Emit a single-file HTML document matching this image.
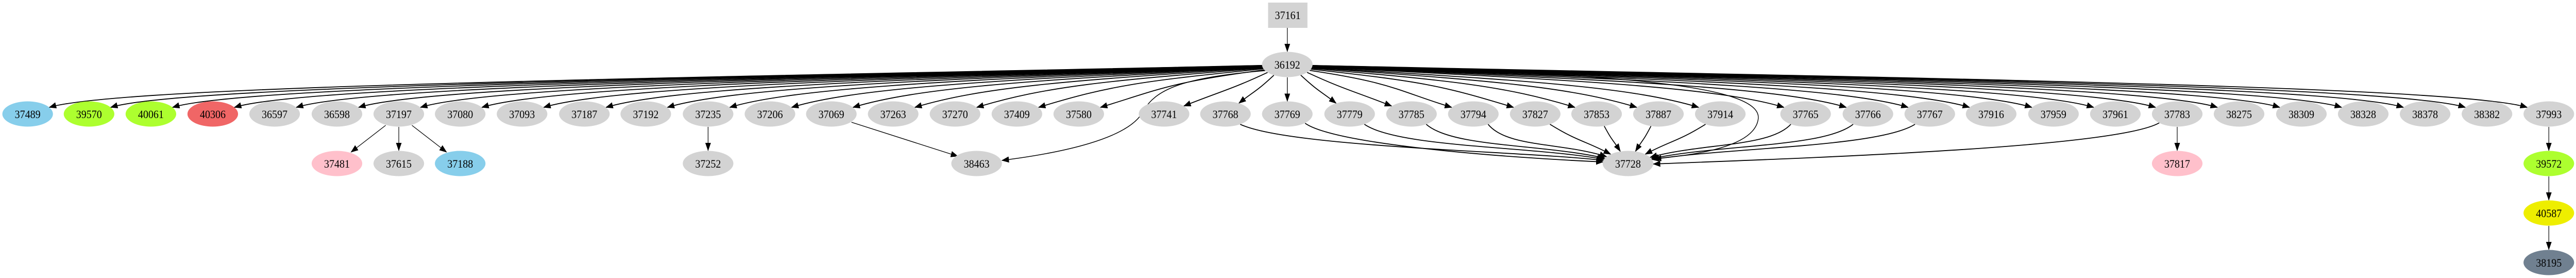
<!DOCTYPE html>
<html><head><meta charset="utf-8">
<style>
html,body{margin:0;padding:0;background:#fff;overflow:hidden;width:100%;height:100%;}
svg{display:block;width:100vw;height:100vh;}
text{font-family:"Liberation Serif",serif;font-size:22px;text-anchor:middle;fill:#000;}
</style></head>
<body>
<svg id="g" xmlns="http://www.w3.org/2000/svg" viewBox="0 0 5497 539" preserveAspectRatio="none">
<defs>
<marker id="ah" markerWidth="16" markerHeight="12" refX="15" refY="6" orient="auto" markerUnits="userSpaceOnUse">
<path d="M0,0 L16,6 L0,12 Z" fill="#000"/>
</marker>
</defs>
<g id="edges" fill="none" stroke="#000" stroke-width="1.6"></g>
<g id="nodes">
<rect x="2706" y="5" width="84" height="49" fill="#d3d3d3"/>
<text x="2748" y="37">37161</text>
<ellipse cx="2747" cy="125" rx="54" ry="24.5" fill="#d3d3d3"/><text x="2747" y="133">36192</text>

<ellipse cx="59" cy="221" rx="54" ry="24.5" fill="#87ceeb"/><text x="59" y="229">37489</text>
<ellipse cx="190" cy="221" rx="54" ry="24.5" fill="#adff2f"/><text x="190" y="229">39570</text>
<ellipse cx="322" cy="221" rx="54" ry="24.5" fill="#adff2f"/><text x="322" y="229">40061</text>
<ellipse cx="454" cy="221" rx="54" ry="24.5" fill="#f06666"/><text x="454" y="229">40306</text>
<ellipse cx="586" cy="221" rx="54" ry="24.5" fill="#d3d3d3"/><text x="586" y="229">36597</text>
<ellipse cx="719" cy="221" rx="54" ry="24.5" fill="#d3d3d3"/><text x="719" y="229">36598</text>
<ellipse cx="851" cy="221" rx="54" ry="24.5" fill="#d3d3d3"/><text x="851" y="229">37197</text>
<ellipse cx="982" cy="221" rx="54" ry="24.5" fill="#d3d3d3"/><text x="982" y="229">37080</text>
<ellipse cx="1114" cy="221" rx="54" ry="24.5" fill="#d3d3d3"/><text x="1114" y="229">37093</text>
<ellipse cx="1247" cy="221" rx="54" ry="24.5" fill="#d3d3d3"/><text x="1247" y="229">37187</text>
<ellipse cx="1378" cy="221" rx="54" ry="24.5" fill="#d3d3d3"/><text x="1378" y="229">37192</text>
<ellipse cx="1511" cy="221" rx="54" ry="24.5" fill="#d3d3d3"/><text x="1511" y="229">37235</text>
<ellipse cx="1643" cy="221" rx="54" ry="24.5" fill="#d3d3d3"/><text x="1643" y="229">37206</text>
<ellipse cx="1774" cy="221" rx="54" ry="24.5" fill="#d3d3d3"/><text x="1774" y="229">37069</text>
<ellipse cx="1906" cy="221" rx="54" ry="24.5" fill="#d3d3d3"/><text x="1906" y="229">37263</text>
<ellipse cx="2038" cy="221" rx="54" ry="24.5" fill="#d3d3d3"/><text x="2038" y="229">37270</text>
<ellipse cx="2170" cy="221" rx="54" ry="24.5" fill="#d3d3d3"/><text x="2170" y="229">37409</text>
<ellipse cx="2302" cy="221" rx="54" ry="24.5" fill="#d3d3d3"/><text x="2302" y="229">37580</text>
<ellipse cx="2484" cy="221" rx="54" ry="24.5" fill="#d3d3d3"/><text x="2484" y="229">37741</text>
<ellipse cx="2615" cy="221" rx="54" ry="24.5" fill="#d3d3d3"/><text x="2615" y="229">37768</text>
<ellipse cx="2747" cy="221" rx="54" ry="24.5" fill="#d3d3d3"/><text x="2747" y="229">37769</text>
<ellipse cx="2880" cy="221" rx="54" ry="24.5" fill="#d3d3d3"/><text x="2880" y="229">37779</text>
<ellipse cx="3012" cy="221" rx="54" ry="24.5" fill="#d3d3d3"/><text x="3012" y="229">37785</text>
<ellipse cx="3144" cy="221" rx="54" ry="24.5" fill="#d3d3d3"/><text x="3144" y="229">37794</text>
<ellipse cx="3276" cy="221" rx="54" ry="24.5" fill="#d3d3d3"/><text x="3276" y="229">37827</text>
<ellipse cx="3407" cy="221" rx="54" ry="24.5" fill="#d3d3d3"/><text x="3407" y="229">37853</text>
<ellipse cx="3539" cy="221" rx="54" ry="24.5" fill="#d3d3d3"/><text x="3539" y="229">37887</text>
<ellipse cx="3671" cy="221" rx="54" ry="24.5" fill="#d3d3d3"/><text x="3671" y="229">37914</text>
<ellipse cx="3853" cy="221" rx="54" ry="24.5" fill="#d3d3d3"/><text x="3853" y="229">37765</text>
<ellipse cx="3986" cy="221" rx="54" ry="24.5" fill="#d3d3d3"/><text x="3986" y="229">37766</text>
<ellipse cx="4118" cy="221" rx="54" ry="24.5" fill="#d3d3d3"/><text x="4118" y="229">37767</text>
<ellipse cx="4249" cy="221" rx="54" ry="24.5" fill="#d3d3d3"/><text x="4249" y="229">37916</text>
<ellipse cx="4382" cy="221" rx="54" ry="24.5" fill="#d3d3d3"/><text x="4382" y="229">37959</text>
<ellipse cx="4514" cy="221" rx="54" ry="24.5" fill="#d3d3d3"/><text x="4514" y="229">37961</text>
<ellipse cx="4646" cy="221" rx="54" ry="24.5" fill="#d3d3d3"/><text x="4646" y="229">37783</text>
<ellipse cx="4778" cy="221" rx="54" ry="24.5" fill="#d3d3d3"/><text x="4778" y="229">38275</text>
<ellipse cx="4911" cy="221" rx="54" ry="24.5" fill="#d3d3d3"/><text x="4911" y="229">38309</text>
<ellipse cx="5043" cy="221" rx="54" ry="24.5" fill="#d3d3d3"/><text x="5043" y="229">38328</text>
<ellipse cx="5175" cy="221" rx="54" ry="24.5" fill="#d3d3d3"/><text x="5175" y="229">38378</text>
<ellipse cx="5307" cy="221" rx="54" ry="24.5" fill="#d3d3d3"/><text x="5307" y="229">38382</text>
<ellipse cx="5439" cy="221" rx="54" ry="24.5" fill="#d3d3d3"/><text x="5439" y="229">37993</text>

<ellipse cx="719" cy="317" rx="54" ry="24.5" fill="#ffc0cb"/><text x="719" y="325">37481</text>
<ellipse cx="851" cy="317" rx="54" ry="24.5" fill="#d3d3d3"/><text x="851" y="325">37615</text>
<ellipse cx="982" cy="317" rx="54" ry="24.5" fill="#87ceeb"/><text x="982" y="325">37188</text>
<ellipse cx="1511" cy="317" rx="54" ry="24.5" fill="#d3d3d3"/><text x="1511" y="325">37252</text>
<ellipse cx="2084" cy="317" rx="54" ry="24.5" fill="#d3d3d3"/><text x="2084" y="325">38463</text>
<ellipse cx="3474" cy="317" rx="54" ry="24.5" fill="#d3d3d3"/><text x="3474" y="325">37728</text>
<ellipse cx="4646" cy="317" rx="54" ry="24.5" fill="#ffc0cb"/><text x="4646" y="325">37817</text>
<ellipse cx="5439" cy="317" rx="54" ry="24.5" fill="#adff2f"/><text x="5439" y="325">39572</text>
<ellipse cx="5439" cy="413" rx="54" ry="24.5" fill="#eeee00"/><text x="5439" y="421">40587</text>
<ellipse cx="5439" cy="509" rx="54" ry="24.5" fill="#708090"/><text x="5439" y="517">38195</text>
</g>
</svg>
<script>
(function(){
var E=document.getElementById('edges'),NS='http://www.w3.org/2000/svg';
var rx=54,ry=24.5;
function add(d,w){var p=document.createElementNS(NS,'path');p.setAttribute('d',d);p.setAttribute('marker-end','url(#ah)');if(w)p.setAttribute('stroke-width',w);E.appendChild(p);}
function curve(x1,y1,x2,y2,minAng,bottom){
 var dx=x2-x1,dy=y2-y1,s=dx>=0?1:-1;
 var a1=Math.atan2(dy/ry,dx/rx);
 if(bottom&&a1<0.95)a1=0.95; if(bottom&&a1>Math.PI-0.95)a1=Math.PI-0.95;
 var sx=x1+rx*Math.cos(a1),sy=y1+ry*Math.sin(a1);
 var a2=Math.atan2(dy/ry,Math.abs(dx)/rx);
 if(a2<minAng)a2=minAng;
 var ex=x2-s*rx*Math.cos(a2),ey=y2-ry*Math.sin(a2);
 var vx=x2-ex,vy=y2-ey,L=Math.hypot(vx,vy);vx/=L;vy/=L;
 var ad=Math.abs(dx),l2=Math.max(35,Math.min(ad*0.3,160));
 var c1x=sx+dx*0.45,c1y=sy+Math.min(30,dy*0.25);
 if(bottom){c1x=sx+dx*0.12;c1y=sy+Math.min(45,dy*0.55);}
 if(ad<300){c1x=sx+dx*0.3;c1y=sy+dy*0.35;}
 var c2x=ex-vx*l2,c2y=ey-vy*l2;
 add('M'+sx.toFixed(1)+','+sy.toFixed(1)+' C'+c1x.toFixed(1)+','+c1y.toFixed(1)+' '+c2x.toFixed(1)+','+c2y.toFixed(1)+' '+ex.toFixed(1)+','+ey.toFixed(1),1.8);
}
var row1=[59,190,322,454,586,719,851,982,1114,1247,1378,1511,1643,1774,1906,2038,2170,2302,2484,2615,2747,2880,3012,3144,3276,3407,3539,3671,3853,3986,4118,4249,4382,4514,4646,4778,4911,5043,5175,5307,5439];
row1.forEach(function(x){ if(x===2747){add('M2747,150 L2747,196.5',1.4);} else curve(2747,125,x,221,0.55);});
[2615,2880,3012,3144,3276,3407,3539,3671,3853,3986,4118].forEach(function(x){curve(x,221,3474,317,0.05,true);});
add('M2785,239 C2850,280 3200,305 3421,314',1.8);
add('M4608,238 C4520,285 3900,305 3528,318',1.8);
add('M2790,130 C3450,140 3760,165 3752,230 C3745,285 3620,300 3530,308',1.5);
add('M2700,137 C2520,150 2465,175 2440,215 C2410,270 2260,297 2138,311',1.5);
add('M1817,237 L2044,303',1.4);
add('M2747,54 L2747,100',1.3);
add('M823,243 L749,295',1.3);add('M851,246 L851,292',1.3);add('M879,243 L953,295',1.3);
add('M1511,246 L1511,292',1.3);add('M4646,246 L4646,292',1.3);
add('M5439,246 L5439,292',1.3);add('M5439,342 L5439,388',1.3);add('M5439,438 L5439,484',1.3);
})();
</script>
</body></html>
